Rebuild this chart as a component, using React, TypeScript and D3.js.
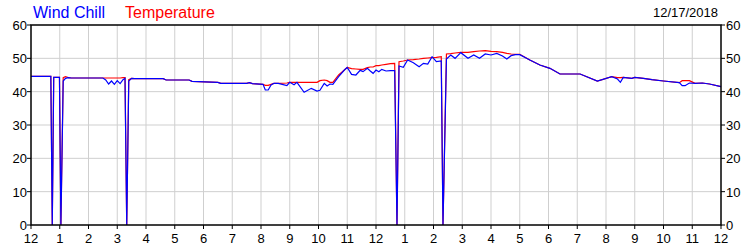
import React from "react";
import * as d3 from "d3";

// hours since midnight
const hours: number[] = [
  0, 0.65, 0.69, 0.74, 0.79, 0.99, 1.04, 1.12, 1.2, 1.3, 1.4, 2.5, 2.6, 2.7, 2.8, 2.9, 3.0, 3.1, 3.2, 3.27, 3.33, 3.4, 3.5, 3.6,
  4.6, 4.7, 5.5, 5.6, 6.5, 6.6, 7.5, 7.6, 7.7, 8.07, 8.15, 8.25, 8.35, 8.45, 8.6, 8.9, 9.0, 9.15, 9.25, 9.5, 9.75, 9.95, 10.05,
  10.2, 10.3, 10.4, 10.5, 10.7, 10.9, 11.0, 11.15, 11.3, 11.45, 11.55, 11.7, 11.8, 11.9, 12.0, 12.1, 12.2, 12.35, 12.5, 12.65,
  12.73, 12.8, 12.95, 13.1, 13.3, 13.5, 13.65, 13.8, 13.95, 14.1, 14.27, 14.33, 14.45, 14.6, 14.75, 14.95, 15.2, 15.4, 15.6,
  15.8, 16.0, 16.2, 16.4, 16.55, 16.7, 16.85, 17.0, 17.35, 17.7, 18.05, 18.4, 19.1, 19.7, 20.2, 20.4, 20.5, 20.6, 20.9, 21.0,
  21.3, 21.6, 22.0, 22.55, 22.65, 22.75, 22.9, 23.1, 23.35, 23.6, 24.0,
];

const temperature: number[] = [
  44.6, 44.6, 44.6, 0, 44.3, 44.3, 0, 44.2, 44.5, 44.2, 44.1, 44.1, 44.1, 44.1, 44.1, 44.1, 44.1, 44.1, 44.2, 44.2, 0, 43.6, 44.0, 43.9,
  43.9, 43.5, 43.5, 43.1, 42.8, 42.5, 42.5, 42.7, 42.4, 42.2, 41.9, 41.9, 42.2, 42.5, 42.5, 42.6, 42.8, 42.8, 42.8, 42.8, 42.8, 42.8, 43.3,
  43.5, 43.3, 42.8, 42.8, 45.0, 46.5, 47.3, 46.9, 46.8, 46.7, 46.7, 47.2, 47.4, 47.4, 47.8, 47.8, 48.0, 48.2, 48.4, 48.5,
  0, 49.0, 49.2, 49.5, 49.6, 49.8, 50.0, 50.1, 50.2, 50.3, 50.5, 0, 51.3, 51.4, 51.6, 51.8, 51.8, 52.0, 52.2,
  52.3, 52.1, 52.0, 51.8, 51.5, 51.3, 51.2, 51.2, 49.5, 48.0, 47.0, 45.3, 45.3, 43.2, 44.5, 44.2, 44.2, 44.3, 44.0, 44.3,
  44.0, 43.6, 43.2, 42.7, 43.3, 43.3, 43.3, 42.5, 42.6, 42.3, 41.5,
];

const windChill: number[] = [
  44.6, 44.6, 44.6, 0, 44.3, 44.3, 0, 43.2, 44.0, 44.2, 44.1, 44.1, 43.5, 42.3, 43.2, 42.2, 43.3, 42.4, 43.6, 44.0, 0, 43.2, 44.0, 43.9,
  43.9, 43.5, 43.5, 43.1, 42.8, 42.5, 42.5, 42.7, 42.4, 42.2, 40.5, 40.5, 42.0, 42.5, 42.5, 41.8, 42.8, 42.1, 42.8, 39.8, 41.0, 40.2, 40.4,
  42.5, 41.7, 42.3, 42.2, 44.5, 46.5, 47.3, 45.2, 45.0, 46.4, 46.0, 47.0, 46.2, 45.5, 46.5, 46.0, 46.7, 46.2, 46.3, 46.3,
  0, 47.7, 47.3, 49.5, 48.7, 47.5, 48.5, 48.3, 50.5, 49.0, 49.2, 0, 49.8, 51.0, 50.0, 51.7, 50.0, 51.0, 50.0,
  51.3, 51.0, 51.5, 50.7, 49.8, 50.8, 51.1, 51.1, 49.5, 48.0, 47.0, 45.3, 45.3, 43.2, 44.5, 43.8, 42.8, 44.3, 44.0, 44.3,
  44.0, 43.6, 43.2, 42.7, 41.8, 41.8, 42.6, 42.5, 42.6, 42.3, 41.5,
];

const xTickValues: number[] = [0, 1, 2, 3, 4, 5, 6, 7, 8, 9, 10, 11, 12, 13, 14, 15, 16, 17, 18, 19, 20, 21, 22, 23, 24];
const xTickLabels: string[] = ["12", "1", "2", "3", "4", "5", "6", "7", "8", "9", "10", "11", "12", "1", "2", "3", "4", "5", "6", "7", "8", "9", "10", "11", "12"];
const yTicks: number[] = [0, 10, 20, 30, 40, 50, 60];
const dateLabel = "12/17/2018";

export default function App() {
  const W = 750, H = 250;
  const left = 31, right = 721, top = 25, bottom = 225;
  const x = d3.scaleLinear().domain([0, 24]).range([left, right]);
  const y = d3.scaleLinear().domain([0, 60]).range([bottom, top]);
  const line = d3.line<number>().x((_, i) => x(hours[i])).y((v) => y(v));
  const font = "'Liberation Sans', Arial, sans-serif";

  return (
    <svg width={W} height={H} style={{ position: "absolute", left: 0, top: 0, background: "#fff" }} fontFamily={font}>
      <rect x={0} y={0} width={W} height={H} fill="#fff" />
      {xTickValues.slice(1, -1).map((t) => (
        <line key={"gx" + t} x1={x(t)} x2={x(t)} y1={top} y2={bottom} stroke="#cfcfcf" strokeWidth={1} />
      ))}
      {yTicks.slice(1, -1).map((t) => (
        <line key={"gy" + t} x1={left} x2={right} y1={y(t)} y2={y(t)} stroke="#cfcfcf" strokeWidth={1} />
      ))}
      <path d={line(temperature) || ""} fill="none" stroke="#ff0000" strokeWidth={1.2} />
      <path d={line(windChill) || ""} fill="none" stroke="#0000ff" strokeWidth={1.2} />
      <rect x={left} y={top} width={right - left} height={bottom - top} fill="none" stroke="#000" strokeWidth={1.5} />
      {yTicks.map((t) => (
        <g key={"yt" + t}>
          <line x1={left - 4} x2={left} y1={y(t)} y2={y(t)} stroke="#000" />
          <line x1={right} x2={right + 4} y1={y(t)} y2={y(t)} stroke="#000" />
          <text x={left - 4} y={y(t) + 5} textAnchor="end" fontSize={13} fill="#000">{t}</text>
          <text x={right + 5} y={y(t) + 5} textAnchor="start" fontSize={13} fill="#000">{t}</text>
        </g>
      ))}
      {xTickValues.map((t, i) => (
        <g key={"xt" + t}>
          <line x1={x(t)} x2={x(t)} y1={bottom} y2={bottom + 4} stroke="#000" />
          <text x={x(t)} y={bottom + 18} textAnchor="middle" fontSize={13} fill="#000">{xTickLabels[i]}</text>
        </g>
      ))}
      <text x={33} y={18} fontSize={16} fill="#0000ff">Wind Chill</text>
      <text x={125} y={18} fontSize={16} fill="#ff0000">Temperature</text>
      <text x={718} y={17} fontSize={13} textAnchor="end" fill="#000">{dateLabel}</text>
    </svg>
  );
}
